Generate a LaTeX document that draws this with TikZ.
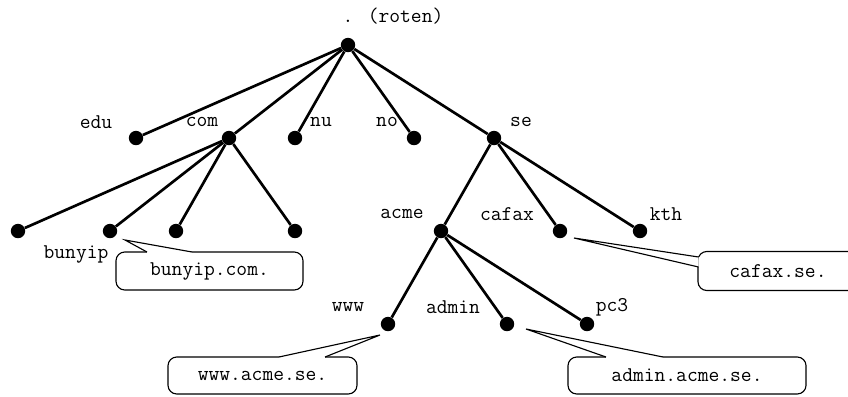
\documentclass[tikz,border=0pt]{standalone}
\usepackage{tikz}

\begin{document}
\begin{tikzpicture}[x=0.025cm, y=-0.025cm,
    dot/.style={circle, fill, inner sep=0pt, minimum size=0.36cm},
    edge/.style={line width=1.9pt},
    lbl/.style={inner sep=0pt, font=\ttfamily\fontsize{14.9}{17}\selectfont},
    callbox/.style={draw, line width=0.8pt, rounded corners=0.22cm, fill=white,
      font=\ttfamily\fontsize{14.9}{17}\selectfont},
    callline/.style={line width=0.8pt, fill=white, line join=miter}]
      \useasboundingbox (0,0) rectangle (848,396);
      % dots
      \node[dot] (root) at (348,45) {};
      \node[dot] (edu) at (136,138) {};
      \node[dot] (com) at (229,138) {};
      \node[dot] (nu) at (295,138) {};
      \node[dot] (no) at (414,138) {};
      \node[dot] (se) at (494,138) {};
      \node[dot] (c1) at (18,231) {};
      \node[dot] (bunyip) at (110,231) {};
      \node[dot] (c3) at (176,231) {};
      \node[dot] (c4) at (295,231) {};
      \node[dot] (acme) at (441,231) {};
      \node[dot] (cafax) at (560,231) {};
      \node[dot] (kth) at (640,231) {};
      \node[dot] (www) at (388,324) {};
      \node[dot] (admin) at (507,324) {};
      \node[dot] (pc3) at (587,324) {};
      % labels
      \node[lbl] (lroot) at (393,16) {. (roten)};
      \node[lbl] (ledu) at (96,122) {edu};
      \node[lbl] (lcom) at (202,122) {com};
      \node[lbl] (lnu) at (321,122) {nu};
      \node[lbl] (lno) at (387,122) {no};
      \node[lbl] (lse) at (521,122) {se};
      \node[lbl] (lbunyip) at (76,254) {bunyip};
      \node[lbl] (lacme) at (402,214) {acme};
      \node[lbl] (lcafax) at (507,214) {cafax};
      \node[lbl] (lkth) at (666,214) {kth};
      \node[lbl] (lwww) at (348,307) {www};
      \node[lbl] (ladmin) at (453,307) {admin};
      \node[lbl] (lpc3) at (612,307) {pc3};
      % edges
      \draw[edge] (root) -- (edu);
      \draw[edge] (root) -- (com);
      \draw[edge] (root) -- (nu);
      \draw[edge] (root) -- (no);
      \draw[edge] (root) -- (se);
      \draw[edge] (com) -- (c1);
      \draw[edge] (com) -- (bunyip);
      \draw[edge] (com) -- (c3);
      \draw[edge] (com) -- (c4);
      \draw[edge] (se) -- (acme);
      \draw[edge] (se) -- (cafax);
      \draw[edge] (se) -- (kth);
      \draw[edge] (acme) -- (www);
      \draw[edge] (acme) -- (admin);
      \draw[edge] (acme) -- (pc3);
      % callouts
      \node[callbox, minimum width=4.675cm, minimum height=0.95cm] (bunyipbox) at (209.5,271) {bunyip.com.};
      \node[callbox, minimum width=4cm, minimum height=0.975cm] (cafaxbox) at (778,271) {cafax.se.};
      \node[callbox, minimum width=4.725cm, minimum height=0.925cm] (wwwbox) at (262.5,375.5) {www.acme.se.};
      \node[callbox, minimum width=5.95cm, minimum height=0.925cm] (adminbox) at (687,375.5) {admin.acme.se.};
      \coordinate (bunyiptip) at (125,240);
      \coordinate (bunyipa) at (147,252);
      \coordinate (bunyipb) at (192,252);
      \coordinate (cafaxtip) at (574,238);
      \coordinate (cafaxa) at (698.5,257);
      \coordinate (cafaxb) at (698.5,267);
      \coordinate (wwwtip) at (380,335);
      \coordinate (wwwa) at (279,357);
      \coordinate (wwwb) at (325,357);
      \coordinate (admintip) at (526,329);
      \coordinate (admina) at (606,357);
      \coordinate (adminb) at (663,357);
      \fill[white] (bunyipa) rectangle (bunyipb |- 0,253.5);
      \fill[white] (cafaxa) rectangle (700,267);
      \fill[white] (wwwa) rectangle (wwwb |- 0,358.5);
      \fill[white] (admina) rectangle (adminb |- 0,358.5);
      \draw[callline] (bunyipa) -- (bunyiptip) -- (bunyipb);
      \draw[callline] (cafaxa) -- (cafaxtip) -- (cafaxb);
      \draw[callline] (wwwa) -- (wwwtip) -- (wwwb);
      \draw[callline] (admina) -- (admintip) -- (adminb);
\end{tikzpicture}
\end{document}
